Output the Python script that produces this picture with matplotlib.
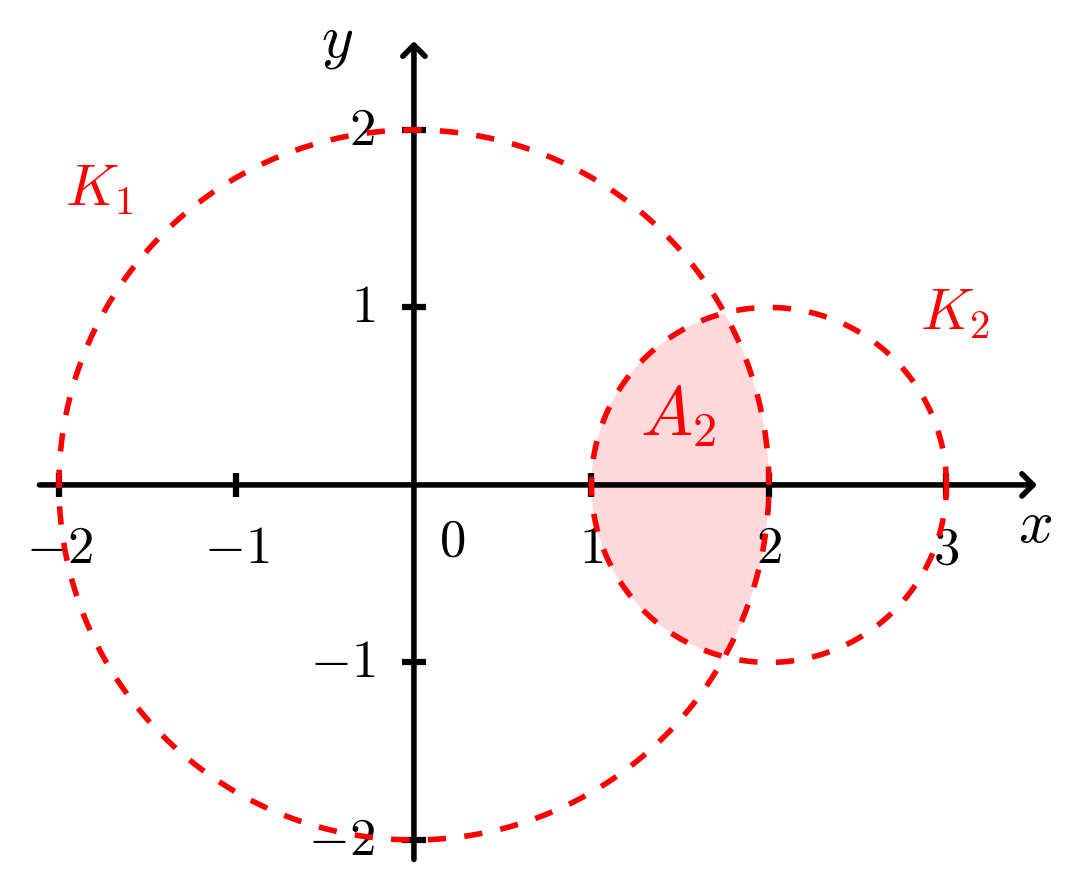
import numpy as np
import matplotlib
matplotlib.use("Agg")
import matplotlib.pyplot as plt

plt.rcParams['mathtext.fontset'] = 'cm'
plt.rcParams['font.family'] = 'DejaVu Sans'

# circles: centre x, centre y, radius, label, label position
centres = [(0.0, 0.0), (2.0, 0.0)]
radii = [2.0, 1.0]
circle_labels = [r'$K_1$', r'$K_2$']
label_pos = [(-1.77, 1.67), (3.05, 0.97)]

xticks = [-2, -1, 1, 2, 3]
yticks = [-2, -1, 1, 2]

red = '#ff0000'
fill_col = '#ffd9db'
fs = 38

fig = plt.figure(figsize=(10.76, 8.85), dpi=100)
ax = fig.add_axes([0, 0, 1, 1])
ax.set_xlim(-2.332, 3.730)
ax.set_ylim(-2.254, 2.732)
ax.set_aspect('equal')
ax.axis('off')

# shaded intersection A2
(c1x, c1y), (c2x, c2y) = centres
r1, r2 = radii
xi = (r1**2 - r2**2 + c2x**2) / (2 * c2x)
yi = np.sqrt(r1**2 - xi**2)
a2 = np.arctan2(yi, xi - c2x)
t2 = np.linspace(a2, 2 * np.pi - a2, 200)
a1 = np.arctan2(yi, xi)
t1 = np.linspace(-a1, a1, 100)
px = np.concatenate([c2x + r2 * np.cos(t2), c1x + r1 * np.cos(t1)])
py = np.concatenate([c2y + r2 * np.sin(t2), c1y + r1 * np.sin(t1)])
ax.fill(px, py, color=fill_col, lw=0, zorder=1)

# axes with arrows
arrow = dict(arrowstyle='->,head_length=0.8,head_width=0.8',
             lw=4.0, color='black', shrinkA=0, shrinkB=0,
             capstyle='round', joinstyle='round')
ax.annotate('', xy=(3.51, 0), xytext=(-2.11, 0), arrowprops=arrow, zorder=3)
ax.annotate('', xy=(0, 2.50), xytext=(0, -2.11), arrowprops=arrow, zorder=3)

tl = 0.068
for t in xticks:
    ax.plot([t, t], [-tl, tl], color='black', lw=4.5, solid_capstyle='butt', zorder=3)
    ax.text(t, -0.21, r'$%d$' % t, ha='center', va='top', fontsize=fs, zorder=4)
for t in yticks:
    ax.plot([-tl, tl], [t, t], color='black', lw=4.5, solid_capstyle='butt', zorder=3)
    ax.text(-0.22, t, r'$%d$' % t, ha='right', va='center', fontsize=fs, zorder=4)
ax.text(0.215, -0.17, r'$0$', ha='center', va='top', fontsize=fs, zorder=4)

ax.text(3.50, -0.23, r'$x$', ha='center', va='center', fontsize=44, zorder=4)
ax.text(-0.435, 2.50, r'$y$', ha='center', va='center', fontsize=44, zorder=4)

# dashed circles
th = np.linspace(0, 2 * np.pi, 600)
for (cx, cy), r, lab, (lx, ly) in zip(centres, radii, circle_labels, label_pos):
    ax.plot(cx + r * np.cos(th), cy + r * np.sin(th), color=red, lw=4.0,
            linestyle=(0, (3.3, 3.3)), dash_capstyle='butt', zorder=5)
    ax.text(lx, ly, lab, color=red, ha='center', va='center', fontsize=42, zorder=6)

ax.text(1.49, 0.39, r'$A_2$', color=red, ha='center', va='center', fontsize=50, zorder=6)

fig.savefig('out.png', dpi=100)
